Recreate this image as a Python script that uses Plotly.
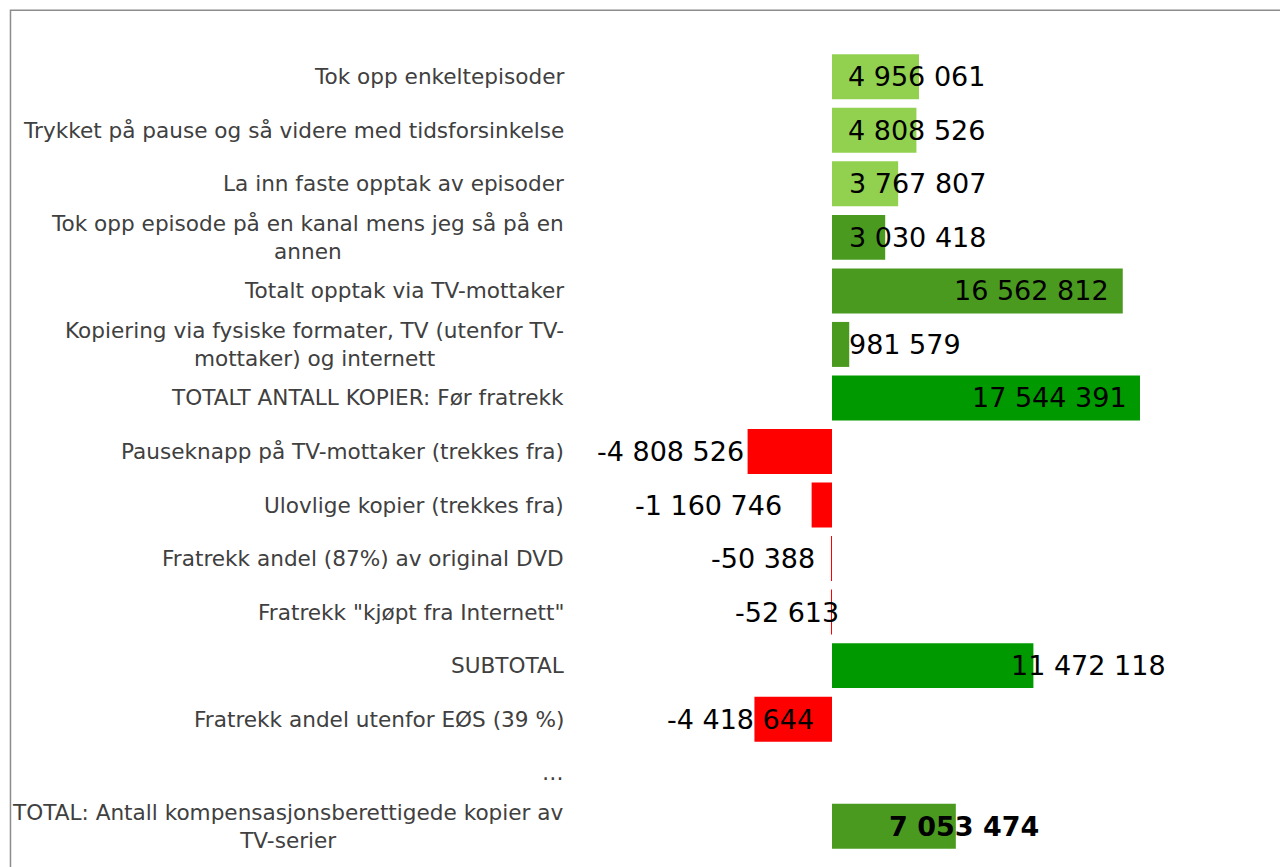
import plotly.graph_objects as go

categories = [
    "Tok opp enkeltepisoder",
    "Trykket på pause og så videre med tidsforsinkelse",
    "La inn faste opptak av episoder",
    "Tok opp episode på en kanal mens jeg så på en<br>annen",
    "Totalt opptak via TV-mottaker",
    "Kopiering via fysiske formater, TV (utenfor TV-<br>mottaker) og internett",
    "TOTALT ANTALL KOPIER: Før fratrekk",
    "Pauseknapp på TV-mottaker (trekkes fra)",
    "Ulovlige kopier (trekkes fra)",
    "Fratrekk andel (87%) av original DVD",
    "Fratrekk \"kjøpt fra Internett\"",
    "SUBTOTAL",
    "Fratrekk andel utenfor EØS (39 %)",
    "…",
    "TOTAL: Antall kompensasjonsberettigede kopier av<br>TV-serier",
]
values = [4956061, 4808526, 3767807, 3030418, 16562812, 981579, 17544391,
          -4808526, -1160746, -50388, -52613, 11472118, -4418644, None, 7053474]
value_labels = ["4 956 061", "4 808 526", "3 767 807", "3 030 418", "16 562 812",
                "981 579", "17 544 391", "-4 808 526", "-1 160 746", "-50 388",
                "-52 613", "11 472 118", "-4 418 644", None, "7 053 474"]

LIGHT = "#92D050"
DARK = "#4A9A1F"
BRIGHT = "#009900"
RED = "#FF0000"
bar_colors = [LIGHT, LIGHT, LIGHT, DARK, DARK, DARK, BRIGHT,
              RED, RED, RED, RED, BRIGHT, RED, DARK, DARK]
# horizontal pixel offset of each value label's left edge from its bar end
label_shift = [-73, -70, -51, -38, -171, -2, -170, -153, -179, -122, -98, -24, -89, 0, -69]

y_idx = list(range(len(categories)))

fig = go.Figure()
fig.add_trace(go.Bar(
    y=y_idx, x=values, orientation="h",
    marker=dict(color=bar_colors, line=dict(width=0)),
    hoverinfo="skip",
))

annotations = []
for i, (v, t) in enumerate(zip(values, value_labels)):
    if v is None:
        continue
    bold = i == len(values) - 1
    annotations.append(dict(
        x=v, y=i, xref="x", yref="y", text=f"<b>{t}</b>" if bold else t,
        showarrow=False, xanchor="left", yanchor="middle", xshift=label_shift[i],
        font=dict(family="DejaVu Sans", size=27, color="#000000"),
    ))
for i, c in enumerate(categories):
    annotations.append(dict(
        x=0, y=i, xref="paper", yref="y", text=c, showarrow=False,
        xanchor="right", yanchor="middle", align="center", xshift=-14,
        font=dict(family="DejaVu Sans", size=21.6, color="#404040"),
    ))

fig.update_layout(
    width=1280, height=859,
    margin=dict(l=572, r=18, t=42, b=14, pad=0),
    paper_bgcolor="white", plot_bgcolor="white",
    showlegend=False, bargap=0.16,
    xaxis=dict(range=[-14.355e6, 24.95e6], showgrid=False, zeroline=False,
               showticklabels=False, showline=False, fixedrange=True),
    yaxis=dict(range=[14.5, -0.5], showgrid=False, zeroline=False,
               showticklabels=False, showline=False, fixedrange=True),
    annotations=annotations,
    shapes=[dict(type="rect", xref="paper", yref="paper",
                 x0=-0.8254, x1=1.05, y0=-0.05, y1=1.0495,
                 line=dict(color="#8C8C8C", width=1.5), fillcolor="rgba(0,0,0,0)")],
)

fig.write_html("out.html")
